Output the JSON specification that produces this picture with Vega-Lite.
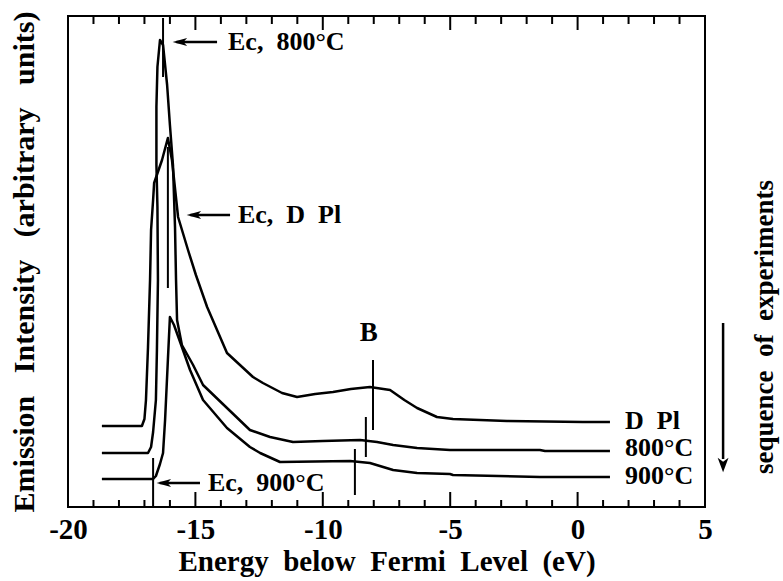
{
  "$schema": "https://vega.github.io/schema/vega-lite/v6.json",
  "width": 637,
  "height": 491,
  "autosize": {"type": "none"},
  "padding": {"left": 68, "top": 16, "right": 78, "bottom": 74},
  "background": "white",
  "config": {"view": {"stroke": "black", "strokeWidth": 2}, "font": "Liberation Serif"},
  "resolve": {"scale": {"x": "independent"}, "axis": {"x": "independent", "y": "independent"}},
  "datasets": {
    "curves": [
      {"s":"D Pl","i":1,"e":-18.67,"v":81},{"s":"D Pl","i":2,"e":-17.10,"v":81},{"s":"D Pl","i":3,"e":-17.00,"v":88},{"s":"D Pl","i":4,"e":-16.94,"v":107},{"s":"D Pl","i":5,"e":-16.86,"v":160},{"s":"D Pl","i":6,"e":-16.78,"v":227},{"s":"D Pl","i":7,"e":-16.74,"v":277},{"s":"D Pl","i":8,"e":-16.66,"v":307},{"s":"D Pl","i":9,"e":-16.62,"v":324},{"s":"D Pl","i":10,"e":-16.31,"v":347},{"s":"D Pl","i":11,"e":-16.08,"v":369},{"s":"D Pl","i":12,"e":-15.92,"v":347},{"s":"D Pl","i":13,"e":-15.68,"v":290},{"s":"D Pl","i":14,"e":-15.29,"v":257},{"s":"D Pl","i":15,"e":-14.98,"v":232},{"s":"D Pl","i":16,"e":-14.54,"v":200},{"s":"D Pl","i":17,"e":-13.76,"v":154},{"s":"D Pl","i":18,"e":-12.74,"v":130},{"s":"D Pl","i":19,"e":-12.35,"v":124},{"s":"D Pl","i":20,"e":-11.60,"v":114},{"s":"D Pl","i":21,"e":-11.01,"v":110},{"s":"D Pl","i":22,"e":-10.30,"v":113},{"s":"D Pl","i":23,"e":-9.60,"v":115},{"s":"D Pl","i":24,"e":-8.90,"v":118},{"s":"D Pl","i":25,"e":-8.15,"v":120},{"s":"D Pl","i":26,"e":-7.36,"v":117},{"s":"D Pl","i":27,"e":-6.80,"v":107},{"s":"D Pl","i":28,"e":-6.30,"v":99},{"s":"D Pl","i":29,"e":-5.52,"v":90},{"s":"D Pl","i":30,"e":-4.89,"v":88},{"s":"D Pl","i":31,"e":-2.77,"v":86},{"s":"D Pl","i":32,"e":0.21,"v":85},{"s":"D Pl","i":33,"e":1.27,"v":85},
      {"s":"800","i":1,"e":-18.67,"v":54},{"s":"800","i":2,"e":-16.86,"v":54},{"s":"800","i":3,"e":-16.74,"v":60},{"s":"800","i":4,"e":-16.66,"v":75},{"s":"800","i":5,"e":-16.55,"v":107},{"s":"800","i":6,"e":-16.51,"v":157},{"s":"800","i":7,"e":-16.47,"v":227},{"s":"800","i":8,"e":-16.49,"v":300},{"s":"800","i":9,"e":-16.53,"v":342},{"s":"800","i":10,"e":-16.53,"v":400},{"s":"800","i":11,"e":-16.49,"v":440},{"s":"800","i":12,"e":-16.39,"v":467},{"s":"800","i":13,"e":-16.27,"v":462},{"s":"800","i":14,"e":-16.11,"v":422},{"s":"800","i":15,"e":-16.00,"v":382},{"s":"800","i":16,"e":-15.88,"v":342},{"s":"800","i":17,"e":-15.80,"v":280},{"s":"800","i":18,"e":-15.76,"v":227},{"s":"800","i":19,"e":-15.72,"v":187},{"s":"800","i":20,"e":-15.53,"v":162},{"s":"800","i":21,"e":-15.09,"v":142},{"s":"800","i":22,"e":-14.70,"v":122},{"s":"800","i":23,"e":-13.76,"v":99},{"s":"800","i":24,"e":-12.86,"v":77},{"s":"800","i":25,"e":-12.07,"v":70},{"s":"800","i":26,"e":-11.17,"v":65},{"s":"800","i":27,"e":-10.00,"v":66},{"s":"800","i":28,"e":-8.54,"v":67},{"s":"800","i":29,"e":-7.87,"v":65},{"s":"800","i":30,"e":-7.24,"v":62},{"s":"800","i":31,"e":-6.30,"v":59},{"s":"800","i":32,"e":-5.01,"v":57},{"s":"800","i":33,"e":-1.48,"v":57},{"s":"800","i":34,"e":-1.28,"v":56},{"s":"800","i":35,"e":1.27,"v":56},
      {"s":"900","i":1,"e":-18.67,"v":28},{"s":"900","i":2,"e":-16.66,"v":28},{"s":"900","i":3,"e":-16.55,"v":31},{"s":"900","i":4,"e":-16.39,"v":43},{"s":"900","i":5,"e":-16.27,"v":54},{"s":"900","i":6,"e":-16.19,"v":87},{"s":"900","i":7,"e":-16.08,"v":147},{"s":"900","i":8,"e":-16.00,"v":190},{"s":"900","i":9,"e":-15.84,"v":182},{"s":"900","i":10,"e":-15.60,"v":165},{"s":"900","i":11,"e":-15.21,"v":137},{"s":"900","i":12,"e":-14.70,"v":107},{"s":"900","i":13,"e":-13.76,"v":79},{"s":"900","i":14,"e":-12.86,"v":60},{"s":"900","i":15,"e":-12.46,"v":54},{"s":"900","i":16,"e":-11.68,"v":45},{"s":"900","i":17,"e":-8.93,"v":46},{"s":"900","i":18,"e":-8.15,"v":44},{"s":"900","i":19,"e":-7.24,"v":37},{"s":"900","i":20,"e":-6.30,"v":34},{"s":"900","i":21,"e":-5.01,"v":33},{"s":"900","i":22,"e":-4.89,"v":32},{"s":"900","i":23,"e":-1.48,"v":30},{"s":"900","i":24,"e":1.27,"v":30}
    ],
    "markers": [
      {"name":"Ec 800","e":-16.27,"v":489,"v2":430},
      {"name":"Ec D Pl","e":-16.08,"v":360,"v2":219},
      {"name":"Ec 900","e":-16.66,"v":49,"v2":0},
      {"name":"B D Pl","e":-8.03,"v":147,"v2":77},
      {"name":"B 800","e":-8.31,"v":90,"v2":50},
      {"name":"B 900","e":-8.74,"v":58,"v2":12},
      {"name":"tick","e":-19,"v":0,"v2":7},{"name":"tick","e":-18,"v":0,"v2":7},{"name":"tick","e":-17,"v":0,"v2":7},{"name":"tick","e":-16,"v":0,"v2":7},{"name":"tick","e":-15,"v":0,"v2":15},
      {"name":"tick","e":-14,"v":0,"v2":7},{"name":"tick","e":-13,"v":0,"v2":7},{"name":"tick","e":-12,"v":0,"v2":7},{"name":"tick","e":-11,"v":0,"v2":7},{"name":"tick","e":-10,"v":0,"v2":15},
      {"name":"tick","e":-9,"v":0,"v2":7},{"name":"tick","e":-8,"v":0,"v2":7},{"name":"tick","e":-7,"v":0,"v2":7},{"name":"tick","e":-6,"v":0,"v2":7},{"name":"tick","e":-5,"v":0,"v2":15},
      {"name":"tick","e":-4,"v":0,"v2":7},{"name":"tick","e":-3,"v":0,"v2":7},{"name":"tick","e":-2,"v":0,"v2":7},{"name":"tick","e":-1,"v":0,"v2":7},{"name":"tick","e":0,"v":0,"v2":15},
      {"name":"tick","e":1,"v":0,"v2":7},{"name":"tick","e":2,"v":0,"v2":7},{"name":"tick","e":3,"v":0,"v2":7},{"name":"tick","e":4,"v":0,"v2":7},
      {"name":"tick","e":-19,"v":491,"v2":483},{"name":"tick","e":-18,"v":491,"v2":483},{"name":"tick","e":-17,"v":491,"v2":483},{"name":"tick","e":-16,"v":491,"v2":483},{"name":"tick","e":-15,"v":491,"v2":477},
      {"name":"tick","e":-14,"v":491,"v2":483},{"name":"tick","e":-13,"v":491,"v2":483},{"name":"tick","e":-12,"v":491,"v2":483},{"name":"tick","e":-11,"v":491,"v2":483},{"name":"tick","e":-10,"v":491,"v2":477},
      {"name":"tick","e":-9,"v":491,"v2":483},{"name":"tick","e":-8,"v":491,"v2":483},{"name":"tick","e":-7,"v":491,"v2":483},{"name":"tick","e":-6,"v":491,"v2":483},{"name":"tick","e":-5,"v":491,"v2":477},
      {"name":"tick","e":-4,"v":491,"v2":483},{"name":"tick","e":-3,"v":491,"v2":483},{"name":"tick","e":-2,"v":491,"v2":483},{"name":"tick","e":-1,"v":491,"v2":483},{"name":"tick","e":0,"v":491,"v2":477},
      {"name":"tick","e":1,"v":491,"v2":483},{"name":"tick","e":2,"v":491,"v2":483},{"name":"tick","e":3,"v":491,"v2":483},{"name":"tick","e":4,"v":491,"v2":483}
    ],
    "shafts": [
      {"e":-15.75,"e2":-14.15,"v":465,"v2":465},
      {"e":-15.20,"e2":-13.64,"v":292,"v2":292},
      {"e":-16.40,"e2":-14.82,"v":24,"v2":24},
      {"e":5.71,"e2":5.71,"v":184,"v2":48}
    ],
    "heads": [
      {"dir":"left","e":-15.61,"v":465},
      {"dir":"left","e":-15.06,"v":292},
      {"dir":"left","e":-16.24,"v":24},
      {"dir":"down","e":5.71,"v":42}
    ],
    "notes": [
      {"t":"Ec,\u00a0 800°C","e":-13.72,"v":465},
      {"t":"Ec,\u00a0 D\u00a0 Pl","e":-13.33,"v":292},
      {"t":"Ec,\u00a0 900°C","e":-14.51,"v":24},
      {"t":"D\u00a0 Pl","e":1.86,"v":86},
      {"t":"800°C","e":1.86,"v":59},
      {"t":"900°C","e":1.86,"v":31}
    ],
    "centered": [
      {"t":"B","e":-8.2,"v":174,"a":0},
      {"t":"sequence\u00a0 of\u00a0 experiments","e":7.35,"v":180,"a":270}
    ]
  },
  "layer": [
    {
      "data": {"name": "curves"},
      "mark": {"type": "line", "color": "black", "strokeWidth": 2.5, "strokeJoin": "round"},
      "encoding": {
        "x": {"field": "e", "type": "quantitative", "scale": {"domain": [-20, 5], "nice": false, "zero": false},
          "axis": {"orient": "bottom", "values": [-20,-15,-10,-5,0,5],
            "ticks": false, "domain": false, "grid": false,
            "labelExpr": "datum.value < 0 ? '-' + abs(datum.value) : '' + datum.value",
            "labelFont": "Liberation Serif", "labelFontSize": 29, "labelFontWeight": "bold", "labelColor": "black",
            "labelFlush": false, "labelOverlap": false, "labelBound": false, "labelPadding": 8,
            "title": "Energy\u00a0 below\u00a0 Fermi\u00a0 Level\u00a0 (eV)", "titleFont": "Liberation Serif", "titleFontSize": 29,
            "titleFontWeight": "bold", "titleColor": "black", "titleBaseline": "top", "titleY": 40}},
        "y": {"field": "v", "type": "quantitative", "scale": {"domain": [0, 491], "nice": false},
          "axis": {"orient": "left", "labels": false, "ticks": false, "domain": false, "grid": false,
            "title": "Emission\u00a0\u00a0 Intensity\u00a0\u00a0 (arbitrary\u00a0\u00a0 units)", "titleFont": "Liberation Serif", "titleFontSize": 30,
            "titleFontWeight": "bold", "titleColor": "black", "titlePadding": 35, "titleBaseline": "alphabetic"}},
        "detail": {"field": "s"},
        "order": {"field": "i", "type": "quantitative"}
      }
    },
    {
      "data": {"name": "markers"},
      "mark": {"type": "rule", "color": "black", "strokeWidth": 2},
      "encoding": {
        "x": {"field": "e", "type": "quantitative", "scale": {"domain": [-20, 5], "nice": false, "zero": false}, "axis": null},
        "y": {"field": "v", "type": "quantitative", "scale": {"domain": [0, 491], "nice": false}, "axis": null},
        "y2": {"field": "v2"}
      }
    },
    {
      "data": {"name": "shafts"},
      "mark": {"type": "rule", "color": "black", "strokeWidth": 2.5},
      "encoding": {
        "x": {"field": "e", "type": "quantitative", "scale": {"domain": [-20, 5], "nice": false, "zero": false}, "axis": null},
        "x2": {"field": "e2"},
        "y": {"field": "v", "type": "quantitative", "scale": {"domain": [0, 491], "nice": false}, "axis": null},
        "y2": {"field": "v2"}
      }
    },
    {
      "data": {"name": "heads"},
      "mark": {"type": "point", "filled": true, "color": "black", "opacity": 1, "size": 210},
      "encoding": {
        "x": {"field": "e", "type": "quantitative", "scale": {"domain": [-20, 5], "nice": false, "zero": false}, "axis": null},
        "y": {"field": "v", "type": "quantitative", "scale": {"domain": [0, 491], "nice": false}, "axis": null},
        "shape": {"field": "dir", "type": "nominal", "legend": null,
          "scale": {"domain": ["left", "down"], "range": ["M-1,0L1,-0.55L0.5,0L1,0.55Z", "M0,1L-0.75,-1L0,-0.45L0.75,-1Z"]}}
      }
    },
    {
      "data": {"name": "notes"},
      "mark": {"type": "text", "align": "left", "baseline": "middle", "font": "Liberation Serif", "fontSize": 26, "fontWeight": "bold", "color": "black"},
      "encoding": {
        "x": {"field": "e", "type": "quantitative", "scale": {"domain": [-20, 5], "nice": false, "zero": false}, "axis": null},
        "y": {"field": "v", "type": "quantitative", "scale": {"domain": [0, 491], "nice": false}, "axis": null},
        "text": {"field": "t"}
      }
    },
    {
      "data": {"name": "centered"},
      "mark": {"type": "text", "align": "center", "baseline": "middle", "font": "Liberation Serif", "fontSize": 27, "fontWeight": "bold", "color": "black"},
      "encoding": {
        "x": {"field": "e", "type": "quantitative", "scale": {"domain": [-20, 5], "nice": false, "zero": false}, "axis": null},
        "y": {"field": "v", "type": "quantitative", "scale": {"domain": [0, 491], "nice": false}, "axis": null},
        "angle": {"field": "a", "type": "quantitative", "scale": null},
        "text": {"field": "t"}
      }
    }
  ]
}
